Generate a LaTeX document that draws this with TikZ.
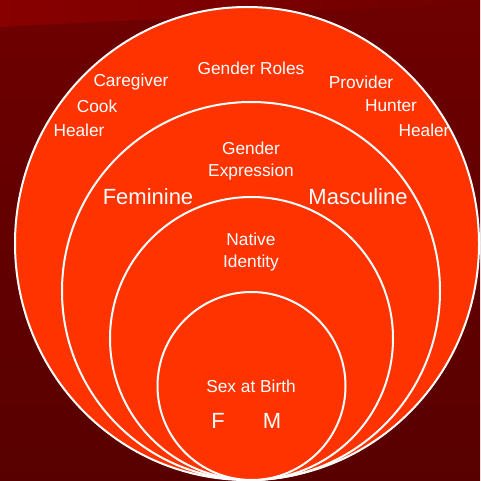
\documentclass[tikz,border=0pt]{standalone}
\usepackage{fontspec}
\setmainfont{Liberation Sans}
\definecolor{bgtop}{HTML}{6E0000}
\definecolor{bgbot}{HTML}{580000}
\definecolor{bandl}{HTML}{880000}
\definecolor{bandr}{HTML}{6E0000}
\definecolor{ring}{HTML}{FF3300}
\tikzset{
  ringshape/.style={fill=ring, draw=white, line width=2pt},
  small/.style={text=white, font=\fontsize{17.3}{21.5}\selectfont, inner sep=0pt, align=center},
  big/.style={text=white, font=\fontsize{22}{26}\selectfont, inner sep=0pt, align=center}
}
\begin{document}
\begin{tikzpicture}[x=1pt,y=-1pt]
\useasboundingbox (0,0) rectangle (480,481);
\shade[top color=bgtop, bottom color=bgbot] (0,0) rectangle (480,481);
\shade[left color=bandl, right color=bandr] (0,0) -- (480,0) -- (480,3) -- (0,27) -- cycle;
% nested circles, tangent at the bottom
\draw[ringshape] (247,243.5) ellipse [x radius=232pt, y radius=236.5pt];
\draw[ringshape] (251,291) circle [radius=189pt];
\draw[ringshape] (251.5,338.5) circle [radius=141.5pt];
\draw[ringshape] (251.5,386) circle [radius=94pt];
% outer ring texts
\node[small] (roles) at (251,68) {Gender Roles};
\node[small] (care) at (131,82) {Caregiver};
\node[small] (cook) at (97,106) {Cook};
\node[small] (healL) at (79,130) {Healer};
\node[small] (prov) at (361,82) {Provider};
\node[small] (hunt) at (391,106) {Hunter};
\node[small] (healR) at (424,130) {Healer};
% second ring
\node[small] (expr) at (251,161) {Gender\\Expression};
\node[big] (fem) at (148,197) {Feminine};
\node[big] (masc) at (358,197) {Masculine};
% third ring
\node[small] (nat) at (251,252) {Native\\Identity};
% inner
\node[small] (sex) at (251,386) {Sex at Birth};
\node[big] (f) at (218,421) {F};
\node[big] (m) at (272,421) {M};
\end{tikzpicture}
\end{document}
